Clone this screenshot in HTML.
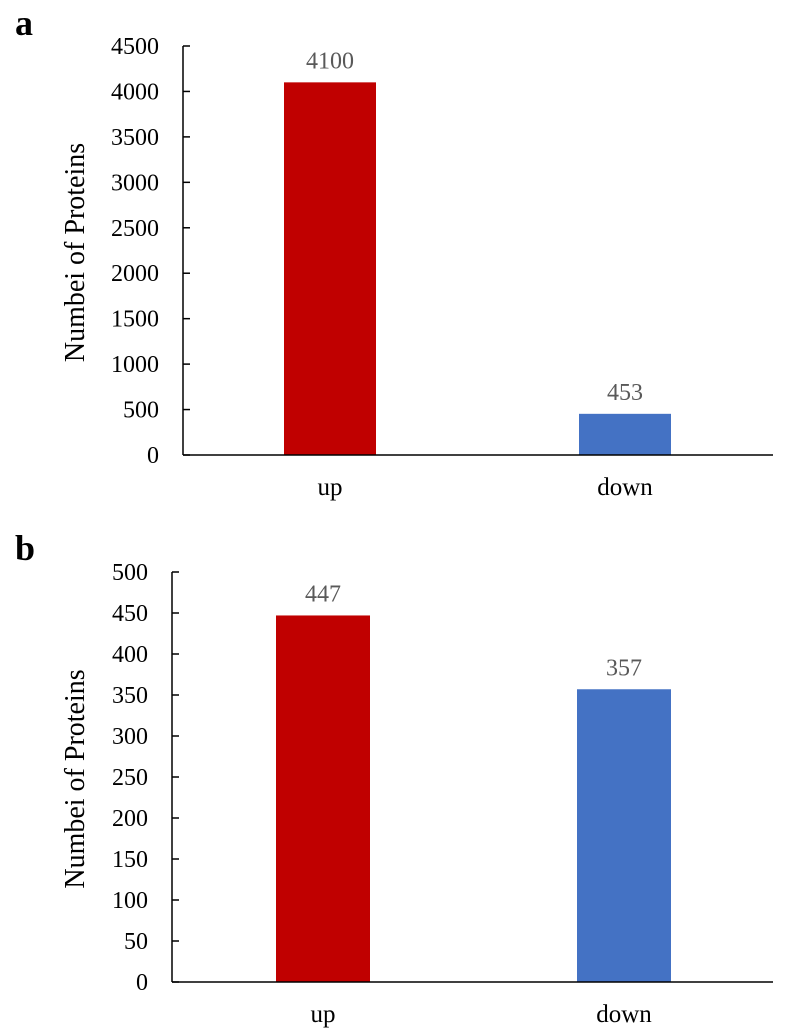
<!DOCTYPE html>
<html><head><meta charset="utf-8">
<style>
html,body{margin:0;padding:0;background:#fff;}
svg{display:block;font-family:"Liberation Serif",serif;}
</style></head>
<body>
<svg id="s" width="788" height="1036" viewBox="0 0 788 1036"></svg>
<script>
const categories = ["up", "down"];
const valuesA = [4100, 453];
const valuesB = [447, 357];
const ticksA = [0, 500, 1000, 1500, 2000, 2500, 3000, 3500, 4000, 4500];
const ticksB = [0, 50, 100, 150, 200, 250, 300, 350, 400, 450, 500];
const colors = ["#C00000", "#4472C4"];

const NS = "http://www.w3.org/2000/svg";
const svg = document.getElementById("s");
function mk(tag, attrs, parent, text) {
  const e = document.createElementNS(NS, tag);
  for (const k in attrs) e.setAttribute(k, attrs[k]);
  if (text !== undefined) e.textContent = text;
  (parent || svg).appendChild(e);
  return e;
}

function drawChart(cfg) {
  const g = mk("g", {});
  
  
  const yScale = v => cfg.y0 - v / cfg.max * (cfg.y0 - cfg.yTop);
  const xCenter = i => cfg.centers[i];
  const lt = mk("text", {x: 15, y: cfg.letterY, "font-size": 36, "font-weight": "bold", fill: "#000"}, g, cfg.letter);
  
  
  const yt = mk("text", {x: 0, y: 0, "font-size": 28, fill: "#000", "text-anchor": "middle",
    transform: `translate(${cfg.titleX},${(cfg.y0 + cfg.yTop) / 2 + 2}) rotate(-90)`}, g, "Numbei of Proteins");
  
  
  cfg.values.forEach((v, i) => {
    const y = yScale(v);
    const b = mk("rect", {x: xCenter(i) - cfg.bw / 2, y: y, width: cfg.bw, height: cfg.y0 - y, fill: colors[i]}, g);
    
    
    const lab = mk("text", {x: xCenter(i), y: y - 14, "font-size": 24, fill: "#595959", "text-anchor": "middle"}, g, String(v));
    
    
    const cl = mk("text", {x: xCenter(i), y: cfg.y0 + 40, "font-size": 25, fill: "#000", "text-anchor": "middle"}, g, categories[i]);
    
    
  });
  const ya = mk("line", {x1: cfg.ax, y1: yScale(cfg.max), x2: cfg.ax, y2: cfg.y0, stroke: "#000", "stroke-width": 1.5}, g);
  
  
  const xa = mk("line", {x1: cfg.ax, y1: cfg.y0, x2: cfg.axEnd, y2: cfg.y0, stroke: "#000", "stroke-width": 1.5}, g);
  
  
  cfg.ticks.forEach(t => {
    const y = yScale(t);
    const tk = mk("line", {x1: cfg.ax, y1: y, x2: cfg.ax + 7, y2: y, stroke: "#000", "stroke-width": 1.5}, g);
    
    
    const tl = mk("text", {x: cfg.ax - 24, y: y + 8, "font-size": 24, fill: "#000", "text-anchor": "end"}, g, String(t));
    
    
  });
}

drawChart({name: "chart-a", letter: "a", letterY: 35, values: valuesA, ticks: ticksA, max: 4500,
  y0: 455, yTop: 46, ax: 183, axEnd: 773, centers: [330, 625], bw: 92, titleX: 84});
drawChart({name: "chart-b", letter: "b", letterY: 560, values: valuesB, ticks: ticksB, max: 500,
  y0: 982, yTop: 572, ax: 172, axEnd: 773, centers: [323, 624], bw: 94, titleX: 84});
</script>
</body></html>
